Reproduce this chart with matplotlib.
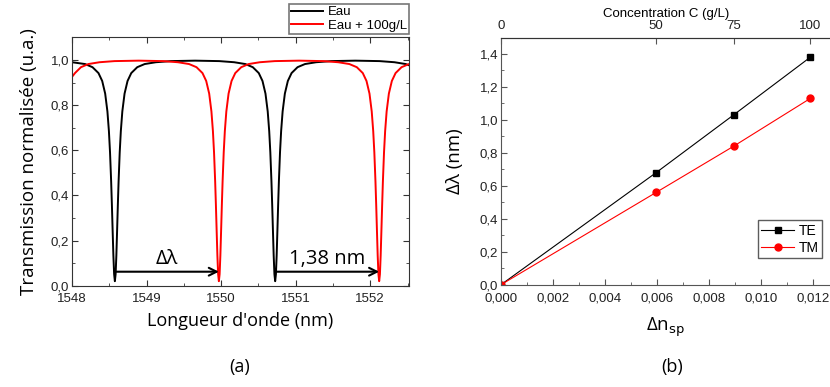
import matplotlib

matplotlib.use("Agg")

import matplotlib.pyplot as plt
from matplotlib.ticker import FuncFormatter, MultipleLocator

plt.rcParams["font.family"] = ["Liberation Sans", "DejaVu Sans"]

# ---- (a) spectres de transmission ----
eau_x = [1548.000, 1548.175, 1548.275, 1548.355, 1548.405, 1548.445, 1548.475, 1548.495,
         1548.510, 1548.525, 1548.535, 1548.545, 1548.555, 1548.565, 1548.575, 1548.585,
         1548.595, 1548.605, 1548.615, 1548.625, 1548.640, 1548.655, 1548.675, 1548.705,
         1548.745, 1548.795, 1548.875, 1548.975, 1549.125, 1549.325, 1549.650,
         1549.975, 1550.175, 1550.325, 1550.425, 1550.505, 1550.555, 1550.595, 1550.625,
         1550.645, 1550.660, 1550.675, 1550.685, 1550.695, 1550.705, 1550.715, 1550.725,
         1550.735, 1550.745, 1550.755, 1550.765, 1550.775, 1550.790, 1550.805, 1550.825,
         1550.855, 1550.895, 1550.945, 1551.025, 1551.125, 1551.275, 1551.475, 1551.800,
         1552.125, 1552.325, 1552.475, 1552.550]
eau_y = [0.990, 0.982, 0.968, 0.942, 0.907, 0.851, 0.772, 0.685,
         0.591, 0.463, 0.359, 0.245, 0.134, 0.051, 0.020, 0.051,
         0.134, 0.245, 0.359, 0.463, 0.591, 0.685, 0.772, 0.851,
         0.907, 0.942, 0.968, 0.982, 0.990, 0.995, 0.997,
         0.995, 0.990, 0.982, 0.968, 0.942, 0.907, 0.851, 0.772,
         0.685, 0.591, 0.463, 0.359, 0.245, 0.134, 0.051, 0.020,
         0.051, 0.134, 0.245, 0.359, 0.463, 0.591, 0.685, 0.772,
         0.851, 0.907, 0.942, 0.968, 0.982, 0.990, 0.995, 0.997,
         0.995, 0.990, 0.982, 0.973]

sucre_x = [1548.000, 1548.040, 1548.120, 1548.220, 1548.370, 1548.570, 1548.895,
           1549.220, 1549.420, 1549.570, 1549.670, 1549.750, 1549.800, 1549.840, 1549.870,
           1549.890, 1549.905, 1549.920, 1549.930, 1549.940, 1549.950, 1549.960, 1549.970,
           1549.980, 1549.990, 1550.000, 1550.010, 1550.020, 1550.035, 1550.050, 1550.070,
           1550.100, 1550.140, 1550.190, 1550.270, 1550.370, 1550.520, 1550.720, 1551.045,
           1551.370, 1551.570, 1551.720, 1551.820, 1551.900, 1551.950, 1551.990, 1552.020,
           1552.040, 1552.055, 1552.070, 1552.080, 1552.090, 1552.100, 1552.110, 1552.120,
           1552.130, 1552.140, 1552.150, 1552.160, 1552.170, 1552.185, 1552.200, 1552.220,
           1552.250, 1552.290, 1552.340, 1552.420, 1552.520]
sucre_y = [0.925, 0.942, 0.968, 0.982, 0.990, 0.995, 0.997,
           0.995, 0.990, 0.982, 0.968, 0.942, 0.907, 0.851, 0.772,
           0.685, 0.591, 0.463, 0.359, 0.245, 0.134, 0.051, 0.020,
           0.051, 0.134, 0.245, 0.359, 0.463, 0.591, 0.685, 0.772,
           0.851, 0.907, 0.942, 0.968, 0.982, 0.990, 0.995, 0.997,
           0.995, 0.990, 0.982, 0.968, 0.942, 0.907, 0.851, 0.772,
           0.685, 0.591, 0.463, 0.359, 0.245, 0.134, 0.051, 0.020,
           0.051, 0.134, 0.245, 0.359, 0.463, 0.591, 0.685, 0.772,
           0.851, 0.907, 0.942, 0.968, 0.982]

# positions des résonances (flèches)
res_eau = [1548.575, 1550.725]
res_sucre = [1549.970, 1552.120]
fleche_labels = ["Δλ", "1,38 nm"]

# ---- (b) décalage en fonction de Δn ----
delta_n = [0.0, 0.00597, 0.00895, 0.0119]
concentration = [0, 50, 75, 100]
shift_te = [0.0, 0.68, 1.03, 1.38]
shift_tm = [0.0, 0.56, 0.84, 1.13]

LABEL_FONT = ["Open Sans", "DejaVu Sans"]
TICK_SIZE = 9.5


def virgule(fmt):
    return FuncFormatter(lambda v, pos: format(v, fmt).replace(".", ","))


def style_axes(ax, spine_color):
    for s in ax.spines.values():
        s.set_color(spine_color)
    ax.tick_params(which="both", direction="in", colors=spine_color, labelcolor="#222222",
                   labelsize=TICK_SIZE)
    ax.tick_params(which="major", length=4)
    ax.tick_params(which="minor", length=2)


fig = plt.figure(figsize=(8.3, 3.87), dpi=100)

# --- panneau (a)
ax1 = fig.add_axes([72 / 830, 1 - 285.7 / 387, 337 / 830, 248.3 / 387])
ax1.plot(eau_x, eau_y, color="black", lw=1.4, label="Eau")
ax1.plot(sucre_x, sucre_y, color="red", lw=1.4, label="Eau + 100g/L")
ax1.set_xlim(1548, 1552.52)
ax1.set_ylim(0, 1.1)
ax1.xaxis.set_major_locator(MultipleLocator(1))
ax1.xaxis.set_minor_locator(MultipleLocator(0.5))
ax1.yaxis.set_major_locator(MultipleLocator(0.2))
ax1.yaxis.set_minor_locator(MultipleLocator(0.1))
ax1.yaxis.set_major_formatter(virgule(".1f"))
ax1.xaxis.set_major_formatter(virgule(".0f"))
style_axes(ax1, "#333333")
ax1.tick_params(which="both", top=True, right=True)
ax1.tick_params(axis="x", pad=5.5)
ax1.tick_params(axis="y", pad=2)
ax1.set_xlabel("Longueur d'onde (nm)", fontsize=13, family=LABEL_FONT, labelpad=5)
ax1.set_ylabel("Transmission normalisée (u.a.)", fontsize=13.5, family=LABEL_FONT,
               labelpad=9)

for x0, x1, txt in zip(res_eau, res_sucre, fleche_labels):
    ax1.annotate("", xy=(x1, 0.062), xytext=(x0, 0.062),
                 arrowprops=dict(arrowstyle="->", color="black", lw=1.5,
                                 mutation_scale=14, shrinkA=0, shrinkB=0))
    ax1.text((x0 + x1) / 2, 0.075, txt, ha="center", va="bottom", fontsize=14.5,
             family=LABEL_FONT)

leg1 = ax1.legend(loc="lower right", bbox_to_anchor=(1.0, 1.015), fontsize=9.5,
                  frameon=True, fancybox=False, borderpad=0.15, handlelength=2.4,
                  handletextpad=0.4, labelspacing=0.1, borderaxespad=0)
leg1.get_frame().set_edgecolor("#555555")
leg1.get_frame().set_linewidth(1.2)

fig.text(240 / 830, 1 - 367 / 387, "(a)", ha="center", va="center", fontsize=13,
         family=LABEL_FONT)

# --- panneau (b)
ax2 = fig.add_axes([501 / 830, 1 - 284.7 / 387, 330 / 830, 247.2 / 387])
ax2.plot(delta_n, shift_te, color="black", lw=0.8, marker="s", ms=5, label="TE")
ax2.plot(delta_n, shift_tm, color="red", lw=0.8, marker="o", ms=5, label="TM")
ax2.set_xlim(0, 0.0127)
ax2.set_ylim(0, 1.5)
ax2.xaxis.set_major_locator(MultipleLocator(0.002))
ax2.xaxis.set_minor_locator(MultipleLocator(0.001))
ax2.yaxis.set_major_locator(MultipleLocator(0.2))
ax2.yaxis.set_minor_locator(MultipleLocator(0.1))
ax2.xaxis.set_major_formatter(virgule(".3f"))
ax2.yaxis.set_major_formatter(virgule(".1f"))
style_axes(ax2, "#555555")
ax2.tick_params(axis="x", pad=5.5)
ax2.tick_params(axis="y", pad=2)
ax2.set_xlabel("Δn$_{\\rm sp}$", fontsize=13.5, family=LABEL_FONT, labelpad=8)
ax2.set_ylabel("Δλ (nm)", fontsize=13.5, family=LABEL_FONT, labelpad=11)

leg2 = ax2.legend(loc="lower right", bbox_to_anchor=(0.973, 0.108), fontsize=10,
                  frameon=True, fancybox=False, borderpad=0.25, handlelength=2.4,
                  handletextpad=0.3, labelspacing=0.2, borderaxespad=0)
leg2.get_frame().set_edgecolor("#333333")
leg2.get_frame().set_linewidth(1.0)

top = ax2.twiny()
top.set_xlim(ax2.get_xlim())
top.set_xticks(delta_n)
top.set_xticklabels([str(c) for c in concentration])
for s in top.spines.values():
    s.set_visible(False)
top.spines["top"].set_visible(True)
top.spines["top"].set_color("#333333")
top.tick_params(direction="in", length=4, colors="#555555", labelcolor="#222222",
                labelsize=TICK_SIZE, pad=4)
top.set_xlabel("Concentration C (g/L)", fontsize=9.5, labelpad=2)

fig.text(672 / 830, 1 - 367 / 387, "(b)", ha="center", va="center", fontsize=13,
         family=LABEL_FONT)

fig.savefig("out.png", dpi=100)
